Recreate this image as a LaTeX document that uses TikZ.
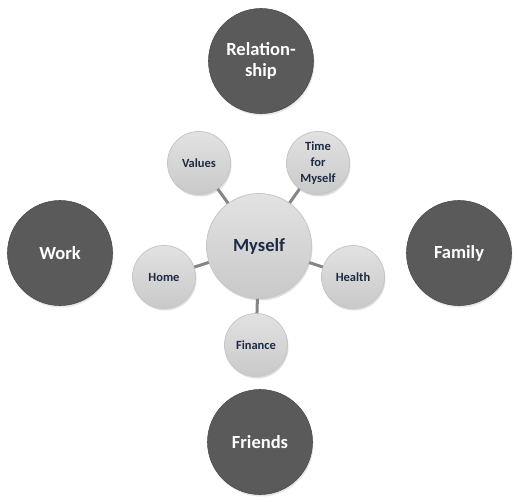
\documentclass[tikz,border=0pt]{standalone}
\usepackage{fontspec}
\setmainfont{Carlito}
\usetikzlibrary{shadows}
\definecolor{darkball}{HTML}{5A5A5A}
\definecolor{lighttop}{HTML}{E2E2E2}
\definecolor{lightbot}{HTML}{C9C9C9}
\definecolor{navytext}{HTML}{1C2A44}
\definecolor{linkgray}{HTML}{858585}

\begin{document}
\begin{tikzpicture}[x=1pt,y=-1pt,
    outer/.style={circle,minimum size=105pt,inner sep=0pt,fill=darkball,
        draw=darkball!85!black,line width=0.6pt,
        text=white,font=\bfseries\fontsize{18.5}{20.5}\selectfont,align=center,
        drop shadow={shadow xshift=1pt,shadow yshift=-2pt,opacity=0.2}},
    inner/.style={circle,minimum size=63pt,inner sep=0pt,draw=gray!45,line width=0.8pt,
        top color=lighttop,bottom color=lightbot,
        text=navytext,font=\bfseries\fontsize{12.5}{16}\selectfont,align=center,
        drop shadow={shadow xshift=1pt,shadow yshift=-2pt,opacity=0.25}},
    hub/.style={inner,minimum size=105pt,font=\bfseries\fontsize{18.5}{20.5}\selectfont},
    link/.style={linkgray,line width=3pt}]
        \useasboundingbox (0,0) rectangle (518,501);
        % Draw outer circles
        \node[outer] (rel) at (261,61) {Relation-\\ship};
        \node[outer] (work) at (60,253) {Work};
        \node[outer] (fam) at (459,253) {Family};
        \node[outer] (fri) at (260,442) {Friends};
        % Draw hub and small circles
        \node[hub] (me) at (259,246) {Myself};
        \node[inner] (val) at (199,163) {Values};
        \node[inner] (time) at (318,163) {Time\\for\\Myself};
        \node[inner] (home) at (164,277) {Home};
        \node[inner] (hea) at (353,277) {Health};
        \node[inner] (fin) at (256,345) {Finance};
        % Draw links
        \draw[link] (me) -- (val);
        \draw[link] (me) -- (time);
        \draw[link] (me) -- (home);
        \draw[link] (me) -- (hea);
        \draw[link] (me) -- (fin);
\end{tikzpicture}
\end{document}
